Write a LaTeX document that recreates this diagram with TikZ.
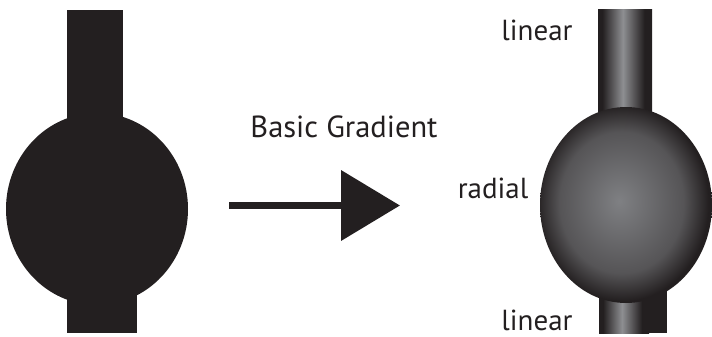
\documentclass[tikz,border=0pt]{standalone}
\usepackage{fontspec}
\setmainfont{PT Sans}
\usetikzlibrary{shapes,arrows.meta,positioning}

\definecolor{ink}{HTML}{231F20}
\definecolor{glow}{HTML}{7F8083}
\definecolor{sheen}{HTML}{8E8F92}

% tube look for the bars, soft light for the bulb
\pgfdeclarehorizontalshading{tube}{100bp}{color(0bp)=(ink); color(25bp)=(ink); color(29bp)=(ink);
	color(48bp)=(sheen); color(68bp)=(ink); color(75bp)=(ink); color(100bp)=(ink)}
\pgfdeclareradialshading{bulb}{\pgfpoint{-2bp}{1bp}}{color(0bp)=(glow); color(18bp)=(glow!55!ink);
	color(25bp)=(ink); color(50bp)=(ink)}

\begin{document}
\begin{tikzpicture}[x=1pt,y=-1pt,
				    lbl/.style={anchor=base,inner sep=0pt,text=ink,font=\fontsize{29}{33}\selectfont},
				    bulbshape/.style={ellipse,inner sep=0pt},
				    >={Triangle[length=59pt,width=69pt]}]
				  
				  \useasboundingbox (0,0) rectangle (712,337);
				  
				  % plain one
				  \fill[ink] (67,10) rectangle (123,210);
				  \fill[ink] (67,210) rectangle (137,333);
				  \node[bulbshape,fill=ink,minimum width=182pt,minimum height=192pt] (bulbL) at (97,209) {};
				  
				  % arrow
				  \coordinate (tail) at (229,205.5);
				  \coordinate (tip) at (400,205.5);
				  \draw[ink,line width=7.5pt,->] (tail) -- (tip);
				  \node[lbl,font=\fontsize{30.5}{34}\selectfont] (basic) at (344,137) {Basic Gradient};
				  
				  % shaded one
				  \shade[shading=tube] (598,10) rectangle (652,210);
				  \fill[ink] (599,210) rectangle (667,333);
				  \shade[shading=tube] (599,210) rectangle (649,333);
				  \node[bulbshape,shade,shading=bulb,minimum width=172pt,minimum height=196pt] (bulbR) at (626,205) {};
				  
				  \node[lbl] (lintop) at (537,41) {linear};
				  \node[lbl] (rad) at (493,198) {radial};
				  \node[lbl] (linbot) at (537,330) {linear};
				\end{tikzpicture}
\end{document}
